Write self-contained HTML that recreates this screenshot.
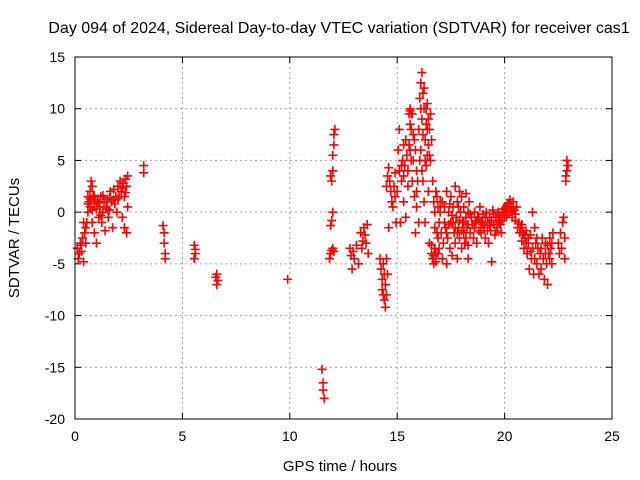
<!DOCTYPE html>
<html><head><meta charset="utf-8"><style>
body{margin:0;background:#fff}
svg{display:block;font-family:"Liberation Sans",sans-serif}
</style></head><body>
<svg id="chart" width="640" height="480">
<text x="339" y="33" text-anchor="middle" font-size="16">Day 094 of 2024, Sidereal Day-to-day VTEC variation (SDTVAR) for receiver cas1</text>
<text transform="translate(19,238) rotate(-90)" text-anchor="middle" font-size="15">SDTVAR / TECUs</text>
<text x="340" y="471" text-anchor="middle" font-size="15">GPS time / hours</text>
<g id="grid"></g>
<g id="marks"></g>
<rect x="75" y="57" width="537" height="362" fill="none" stroke="#000"/>
</svg>
<script>
const xTicks=[0,5,10,15,20,25];
const yTicks=[15,10,5,0,-5,-10,-15,-20];
const points=[
[0.1,-3.5],[0.15,-4.5],[0.2,-4],[0.25,-3],[0.3,-3.8],[0.35,-2.5],[0.4,-4.8],[0.45,-2],[0.5,-3],[0.5,-1.5],
[0.55,-1],[0.6,0],[0.6,1.5],[0.65,1],[0.7,2],[0.7,0.5],[0.75,3],[0.75,1.2],[0.8,2.5],[0.8,-1],[0.85,1.5],[0.9,0.8],[0.9,-2],[0.95,1.2],[1.0,0.3],[1.0,-3],
[1.05,1],[1.1,-0.5],[1.15,0.5],[1.2,1.5],[1.25,-1],[1.3,0],[1.35,1],[1.4,-1.8],[1.45,0.5],[1.5,1.2],[1.55,-0.5],[1.6,0.2],[1.65,2],[1.7,1],[1.75,-1.5],[1.8,2.2],[1.85,0.8],[1.9,1.5],[1.95,0],[2.0,2.5],[2.05,1.5],[2.1,3],[2.15,2],[2.2,-0.5],[2.25,2.8],[2.3,-1.5],[2.3,1.5],[2.35,3.2],[2.4,-2],[2.4,2.5],[2.45,3.5],[2.45,0.5],
[0.6,0.8],[0.7,1.3],[0.8,0.2],[0.9,1.6],[1.1,0.9],[1.2,-0.3],[1.3,1.6],[1.5,0.3],[1.6,1.4],[1.8,1.2],[2.0,1.3],[2.2,2.3],[2.35,1.9],[0.3,-3.2],[0.4,-1],
[3.2,4.5],[3.2,3.8],[4.1,-1.3],[4.15,-2],[4.15,-3],[4.2,-4],[4.2,-4.5],[5.55,-3.2],[5.6,-4],[5.55,-4.5],[5.6,-3.6],[6.6,-6],[6.65,-6.6],[6.6,-7],[6.55,-6.3],[9.9,-6.5],[11.5,-15.2],[11.55,-16.5],[11.55,-17.2],[11.6,-18],
[11.85,-4.5],[11.9,-4],[11.95,-3.7],[12.0,-3.5],[12.05,-3.8],[11.9,-1.3],[11.95,-0.8],[12.0,0],[11.95,3],[12.0,4],[12.0,5.5],[12.05,6.5],[12.05,7.5],[12.1,8],[11.9,3.5],
[12.8,-3.5],[12.85,-4.2],[12.9,-5.5],[12.95,-3.8],[13.0,-4.5],[13.1,-3.2],[13.2,-5],[13.3,-2],[13.35,-3.5],[13.4,-2.8],[13.45,-1.5],[13.5,-2.2],[13.55,-3],[13.6,-1.2],[13.65,-4],
[14.2,-4.5],[14.25,-5.5],[14.3,-6.5],[14.3,-7.5],[14.35,-5],[14.35,-8],[14.4,-6],[14.4,-8.5],[14.45,-7],[14.45,-9.2],[14.5,-8],[14.5,-4.5],[14.55,-6],
[14.5,2.5],[14.55,3.5],[14.6,4.3],[14.65,3],[14.7,2],[14.75,1],[14.8,0.5],[14.85,2.5],[14.9,1.5],[14.95,-1],[14.9,3.8],[14.6,-1.5],
[15.0,2],[15.05,6],[15.1,8],[15.1,4],[15.15,-1],[15.2,3],[15.25,5],[15.3,6.5],[15.3,1],[15.35,4.5],[15.4,7],[15.4,-0.5],[15.45,5.5],[15.5,2.5],[15.55,9.5],[15.6,10],[15.6,6],[15.65,8],[15.7,3],[15.7,9.5],[15.75,5],[15.8,1.5],[15.8,7],[15.85,-2],[15.9,4],[15.9,0.5],[15.95,3],[16.0,-1],
[15.2,4.5],[15.3,3.5],[15.5,4],[15.55,6.5],[15.6,8.5],[15.65,5],[15.75,7.5],[15.85,6],[15.9,2],[15.6,9.8],[15.65,9.5],
[16.0,8],[16.05,11],[16.1,12.5],[16.1,6],[16.15,13.5],[16.15,9],[16.2,11.5],[16.2,3],[16.25,10],[16.25,1],[16.3,7],[16.3,-1],[16.35,8.5],[16.35,4.5],[16.4,10.5],[16.4,5.5],[16.45,9],[16.45,2],[16.5,8],[16.5,-3],
[16.05,5],[16.15,4],[16.2,7.5],[16.3,5],[16.4,8],[16.45,6.5],[16.5,5.5],[16.25,12],[16.1,10],[16.35,10],
[16.55,9.5],[16.55,5],[16.6,7],[16.6,-4],[16.65,3],[16.65,-4.5],[16.7,1],[16.7,-5],[16.75,-3.5],[16.75,0],[16.8,-4.8],[16.8,2],[16.85,1.5],[16.85,-2],[16.9,-4],[16.9,0.5],[16.95,-1],[16.95,-3.5],[17.0,0],
[16.6,-3.2],[16.7,-4.2],[16.8,-4],[16.9,-2.5],[17.0,1],[16.75,-1.5],
[17.05,-2],[17.1,1],[17.1,-4.5],[17.15,-3],[17.2,0.5],[17.25,-1.5],[17.3,-5],[17.3,2],[17.35,-2.5],[17.4,0],[17.45,-3.5],[17.5,1.5],[17.5,-1],[17.55,-4.2],[17.6,0.5],[17.65,-2],[17.7,2.5],[17.7,-3],[17.75,-0.5],[17.8,1],[17.8,-4.5],[17.85,-1.5],[17.9,2],[17.9,-2.5],[17.95,0],[18.0,-3.5],[18.0,1.5],[18.05,-1],[18.1,0.5],[18.1,-2],[18.15,-3],[18.2,1.8],[18.2,-0.5],[18.25,-1.5],[18.3,0],[18.3,-3.2],[18.35,1],[18.4,-2],[18.45,-0.5],[18.5,-1.2],
[17.2,-1],[17.3,-2],[17.4,-1.2],[17.6,-1],[17.7,-1.5],[17.8,-2],[17.9,-0.8],[18.0,-1.8],[18.1,-1],[18.2,-2.5],[18.3,-1.2],[18.4,-0.2],[17.55,-0.3],[17.45,0.8],[17.85,0.5],
[18.55,-2.5],[18.6,0],[18.65,-1],[18.7,-3],[18.75,-0.5],[18.8,-1.8],[18.85,0.5],[18.9,-2],[18.95,-1],[19.0,-0.2],[19.05,-1.5],[19.1,-2.5],[19.15,0],[19.2,-1],[19.25,-3],[19.3,-0.5],[19.35,-1.8],[19.4,-0.8],[19.45,0.2],[19.5,-1.2],[19.55,-2.2],[19.6,-0.5],[19.65,-1.5],[19.7,0],[19.75,-1],[19.8,-0.3],[19.85,-2],[19.9,-0.8],[19.95,0.3],[20.0,-0.5],[19.4,-4.8],[18.3,-4.5],
[18.6,-1.5],[18.7,-0.8],[18.8,-0.5],[18.9,-1],[19.0,-1.2],[19.1,-0.5],[19.2,-1.8],[19.3,-1.3],[19.5,-0.2],[19.6,-1.8],[19.7,-0.8],[19.8,-1.2],[19.9,-0.1],[20.0,0.3],
[20.05,0.5],[20.1,-0.3],[20.15,0.8],[20.2,0],[20.25,1.2],[20.3,0.5],[20.35,-0.5],[20.4,1],[20.45,0.2],[20.5,-0.8],[20.55,0.5],[20.6,-1.5],
[20.1,0.3],[20.2,0.9],[20.3,0.1],[20.4,0.4],[20.5,-0.2],
[20.65,-1],[20.7,-2],[20.75,-1.5],[20.8,-2.8],[20.85,-2],[20.9,-3.5],[20.95,-2.5],[21.0,-1.8],[21.05,-4],[21.1,-3],[21.15,-5.5],[21.2,-2.2],[21.25,-4.5],[21.3,-3.5],[21.35,-6],[21.4,-1.5],[21.45,-3],[21.5,-5],[21.3,0],
[20.8,-1.2],[20.9,-2.2],[21.0,-3],[21.1,-2.5],[21.2,-3.8],[21.4,-4.5],[21.5,-2.5],
[21.55,-3.5],[21.6,-6],[21.65,-4],[21.7,-5.5],[21.75,-2.5],[21.8,-4.5],[21.85,-6.5],[21.9,-3],[21.95,-5],[22.0,-7],[22.05,-4],[22.1,-2.5],[22.15,-3.5],[22.2,-5],[22.25,-2],
[21.7,-3.5],[21.9,-4],[22.0,-3.2],[22.1,-4.5],[22.2,-3],
[22.5,-3],[22.55,-4],[22.6,-2],[22.65,-3.5],[22.7,-1],[22.75,-0.5],[22.8,-2.5],[22.8,-4.5],
[22.85,3],[22.9,4],[22.9,5],[22.95,4.5],[22.85,3.5]
];
const NS='http://www.w3.org/2000/svg';
const L=75,R=612,T=57,B=419;
function xs(v){return L+(v-0)/25*(R-L);}
function ys(v){return B-(v+20)/35*(B-T);}
const grid=document.getElementById('grid'),svg=document.getElementById('chart');
function mk(tag,at,parent){const e=document.createElementNS(NS,tag);for(const k in at)e.setAttribute(k,at[k]);parent.appendChild(e);return e;}
xTicks.forEach(t=>{const x=xs(t);
 if(t>0&&t<25){const g=mk('line',{x1:x,x2:x,y1:T,y2:B,stroke:'#a0a0a0','stroke-dasharray':'2,3'},grid);
 
 }
 mk('line',{x1:x,x2:x,y1:B,y2:B-6,stroke:'#000'},grid);mk('line',{x1:x,x2:x,y1:T,y2:T+6,stroke:'#000'},grid);
 const tx=mk('text',{x:x,y:B+22,'text-anchor':'middle','font-size':14},svg);tx.textContent=t;
 
 });
yTicks.forEach(t=>{const y=ys(t);
 if(t>-20&&t<15){const g=mk('line',{x1:L,x2:R,y1:y,y2:y,stroke:'#a0a0a0','stroke-dasharray':'2,3'},grid);
 
 }
 mk('line',{x1:L,x2:L+6,y1:y,y2:y,stroke:'#000'},grid);mk('line',{x1:R,x2:R-6,y1:y,y2:y,stroke:'#000'},grid);
 const tx=mk('text',{x:L-10,y:y+5,'text-anchor':'end','font-size':14},svg);tx.textContent=t;
 
 });
const marks=document.getElementById('marks');
points.forEach(p=>{const x=xs(p[0]),y=ys(p[1]);
 const m=mk('path',{d:`M${x-4.5},${y}H${x+4.5}M${x},${y-4.5}V${y+4.5}`,stroke:'#ff0000','stroke-width':1.6,fill:'none'},marks);
 
 });
</script>
</body></html>
